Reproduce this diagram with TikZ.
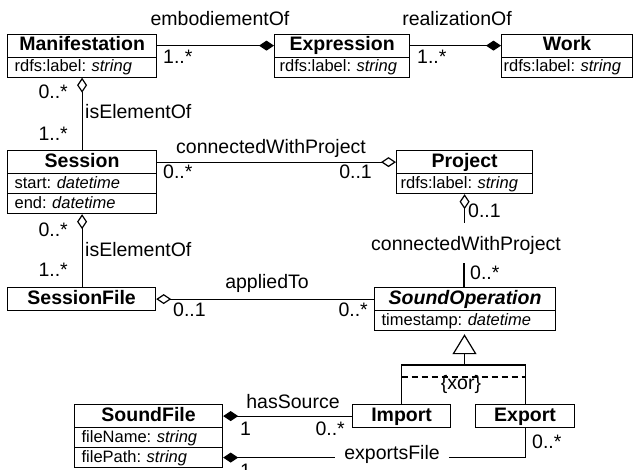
\documentclass[tikz,border=0pt]{standalone}
\usepackage{fontspec}
\setmainfont{Liberation Sans}
\usetikzlibrary{arrows.meta}
\frenchspacing
\newcommand\lblfont{\fontsize{19.5}{20}\selectfont}
\newcommand\ttlfont{\fontsize{19.5}{20}\selectfont\bfseries}
\newcommand\attfont{\fontsize{16.5}{17}\selectfont\frenchspacing}
\tikzset{
  ttl/.style={draw, line width=1.2pt, inner xsep=0pt, inner ysep=0pt,
    text height=16.5pt, text depth=6.5pt, minimum width=#1, font=\ttlfont, anchor=north west},
  att/.style={draw, line width=1.2pt, inner xsep=7pt, inner ysep=0pt,
    text height=14.5pt, text depth=5.5pt, text width=#1, align=left, font=\attfont, anchor=north west},
  lbl/.style={font=\lblfont, inner sep=0pt},
  conn/.style={line width=1.2pt},
  compend/.style={conn, -{Diamond[length=15pt,width=10pt]}},
  compstart/.style={conn, {Diamond[length=15pt,width=10pt]}-},
  aggend/.style={conn, -{Diamond[open,length=15pt,width=10pt]}},
  aggstart/.style={conn, {Diamond[open,length=15pt,width=10pt]}-},
  genarrow/.style={conn, -{Triangle[open,length=20pt,width=24pt]}, shorten >=3pt},
}
\begin{document}
\begin{tikzpicture}[x=1pt,y=-1pt]
\useasboundingbox (0,0) rectangle (634,469);
\fill[white] (0,0) rectangle (634,469);

% classes
\node[ttl=149pt] (mt) at (7,33.5) {Manifestation};
\node[att=135pt] (ma) at (7,56.5) {rdfs:label: \textit{string}};
\node[ttl=135pt] (et) at (274,33.5) {Expression};
\node[att=125pt, inner xsep=5pt] (ea) at (274,56.5) {rdfs:label: \textit{string}};
\node[ttl=131pt] (wt) at (501,33.5) {Work};
\node[att=127pt, inner xsep=2pt] (wa) at (501,56.5) {rdfs:label: \textit{string}};

\node[ttl=149pt] (st) at (7,150) {Session};
\node[att=135pt] (sa1) at (7,173) {start: \textit{datetime}};
\node[att=135pt] (sa2) at (7,193) {end: \textit{datetime}};

\node[ttl=136pt] (pt) at (396,150) {Project};
\node[att=128pt, inner xsep=4pt] (pa) at (396,173) {rdfs:label: \textit{string}};

\node[ttl=148pt] (sft) at (7,287) {SessionFile};

\node[ttl=181pt] (sot) at (374,287) {\textit{SoundOperation}};
\node[att=167pt] (soa) at (374,310) {timestamp: \textit{datetime}};

\node[ttl=98pt] (imp) at (352,404) {Import};
\node[ttl=99pt] (exp) at (475,404) {Export};

\node[ttl=148pt] (sndt) at (74,404) {SoundFile};
\node[att=134pt] (snda1) at (74,427) {fileName: \textit{string}};
\node[att=134pt] (snda2) at (74,447) {filePath: \textit{string}};

% embodiementOf
\draw[compend] (mt.east) -- (et.west);
\node[lbl, anchor=base] (l1) at (220,25) {embodiementOf};
\node[lbl, anchor=base west] (l1a) at (163,63) {1..*};

% realizationOf
\draw[compend] (et.east) -- (wt.west);
\node[lbl, anchor=base] (l2) at (457,25) {realizationOf};
\node[lbl, anchor=base west] (l2a) at (417,63) {1..*};

% isElementOf 1
\draw[aggstart] (ma.south) -- (ma.south |- st.north);
\node[lbl, anchor=base east] (l3a) at (68,98) {0..*};
\node[lbl, anchor=base west] (l3) at (85,118) {isElementOf};
\node[lbl, anchor=base east] (l3b) at (68,140) {1..*};

% connectedWithProject (horizontal)
\draw[aggend] (st.east) -- (pt.west);
\node[lbl, anchor=base] (l4) at (271,153) {connectedWithProject};
\node[lbl, anchor=base west] (l4a) at (163,178) {0..*};
\node[lbl, anchor=base east] (l4b) at (372,178) {0..1};

% isElementOf 2
\draw[aggstart] (sa2.south) -- (sa2.south |- sft.north);
\node[lbl, anchor=base east] (l5a) at (68,236) {0..*};
\node[lbl, anchor=base west] (l5) at (85,256) {isElementOf};
\node[lbl, anchor=base east] (l5b) at (68,276) {1..*};

% connectedWithProject (vertical)
\coordinate (c1) at (464,223);
\coordinate (c2) at (464,263);
\draw[aggstart] (pa.south) -- (pa.south |- c1);
\draw[conn] (c2) -- (c2 |- sot.north);
\node[lbl, anchor=base west] (l6b) at (468,217) {0..1};
\node[lbl, anchor=base] (l6) at (466,250) {connectedWithProject};
\node[lbl, anchor=base west] (l6a) at (470,279) {0..*};

% appliedTo
\draw[aggstart] (sft.east) -- (sft.east -| sot.west);
\node[lbl, anchor=base] (l7) at (267,288) {appliedTo};
\node[lbl, anchor=base west] (l7a) at (173,316) {0..1};
\node[lbl, anchor=base east] (l7b) at (368,316) {0..*};

% generalization
\coordinate (gj) at (464.5,365);
\draw[conn] (imp.north) |- (gj) -| (exp.north);
\draw[genarrow] (gj) -- (gj |- soa.south);
\draw[conn, dash pattern=on 6pt off 4pt] (imp.north |- 0,377) -- (exp.north |- 0,377);
\node[lbl, anchor=base] (xor) at (461,389) {\{xor\}};

% hasSource
\draw[compstart] (sndt.east) -- (imp.west);
\node[lbl, anchor=base] (l8) at (293,408) {hasSource};
\node[lbl, anchor=base west] (l8a) at (240,435) {1};
\node[lbl, anchor=base east] (l8b) at (345,435) {0..*};

% exportsFile
\node[lbl, anchor=base, inner xsep=9pt] (l9) at (392,459) {exportsFile};
\draw[compstart] (snda2.east) -- (snda2.east -| l9.west);
\draw[conn] (l9.east |- snda2.east) -| (exp.south);
\node[lbl, anchor=base west] (l9a) at (240,477) {1};
\node[lbl, anchor=base west] (l9b) at (532,448) {0..*};
\end{tikzpicture}
\end{document}
